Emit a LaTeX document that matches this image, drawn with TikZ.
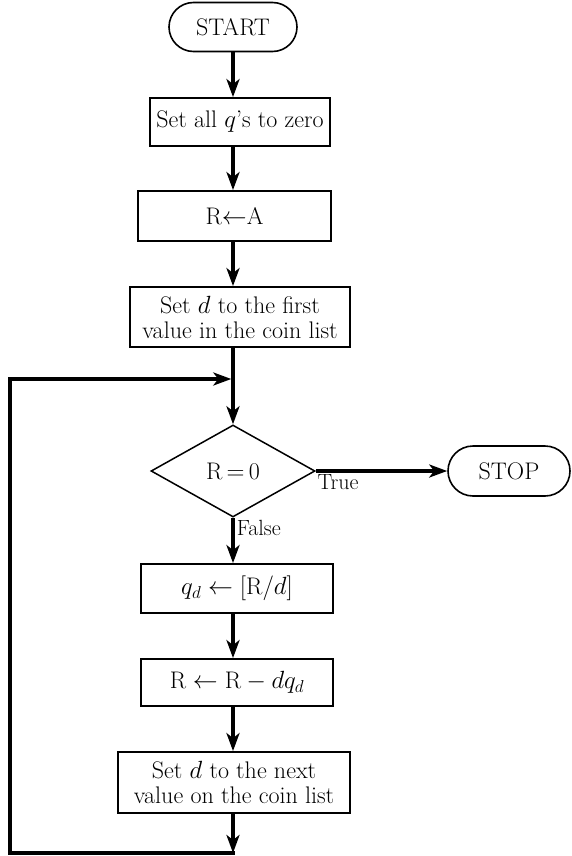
\documentclass[tikz,border=0pt]{standalone}
\usepackage{fontspec}
\setmainfont{Latin Modern Roman}
\usetikzlibrary{shapes.geometric,shapes.misc,arrows.meta}
\begin{document}
\begin{tikzpicture}[x=1pt,y=-1pt,
  every node/.style={font=\fontsize{24}{25}\selectfont},
  proc/.style={draw,line width=1.8pt,rectangle,inner sep=0pt,align=center},
  term/.style={draw,line width=1.6pt,rounded rectangle,inner sep=0pt},
  decide/.style={draw,line width=1.5pt,diamond,inner sep=0pt},
  flow/.style={line width=3.5pt,line join=miter,
    -{Stealth[length=18pt,width=13pt,inset=5pt]}},
  tag/.style={font=\fontsize{22}{24}\selectfont,inner sep=2pt}]
\useasboundingbox (0,0) rectangle (572,856);

% steps of the greedy change-making procedure
\node[term,minimum width=128pt,minimum height=49pt] (start) at (233,27) {START};
\node[proc,minimum width=180pt,minimum height=48pt] (zero) at (240,122) {Set all $q$'s to zero};
\node[proc,minimum width=193pt,minimum height=50pt] (init) at (234.5,216) {R$\leftarrow$A};
\node[proc,minimum width=220pt,minimum height=60pt] (first) at (240,317) {Set $d$ to the first\\value in the coin list};
\node[decide,minimum width=164pt,minimum height=92pt] (test) at (233,471) {R$\,=\,$0};
\node[term,minimum width=122pt,minimum height=50pt] (stop) at (509,471) {STOP};
\node[proc,minimum width=192pt,minimum height=49pt] (quot) at (237,588.5) {$q_d\leftarrow[\mathrm{R}/d]$};
\node[proc,minimum width=192pt,minimum height=47pt] (rem) at (237,682.5) {$\mathrm{R}\leftarrow\mathrm{R}-dq_d$};
\node[proc,minimum width=232pt,minimum height=61pt] (next) at (234,782.5) {Set $d$ to the next\\value on the coin list};

% corners of the loop back to the test
\coordinate (bend) at (233,853);
\coordinate (lb) at (10,853);
\coordinate (lt) at (10,379);
\coordinate (join) at (233,379);

% connectors
\draw[flow] (start.south) -- (start.south |- zero.north);
\draw[flow] (zero.south -| start) -- (init.north -| start);
\draw[flow] (init.south -| start) -- (first.north -| start);
\draw[flow] (first.south -| start) -- (test.north);
\draw[flow] (test.east) -- (stop.west) node[tag,pos=0.17,below] {True};
\draw[flow] (test.south) -- (quot.north -| test) node[tag,pos=0.22,right] {False};
\draw[flow] (quot.south -| start) -- (rem.north -| start);
\draw[flow] (rem.south -| start) -- (next.north -| start);
\draw[flow] (next.south -| start) -- (bend);
\draw[flow,shorten >=1.7pt] ([xshift=1.7pt]bend) -- (lb) -- (lt) -- (join);
\end{tikzpicture}
\end{document}
